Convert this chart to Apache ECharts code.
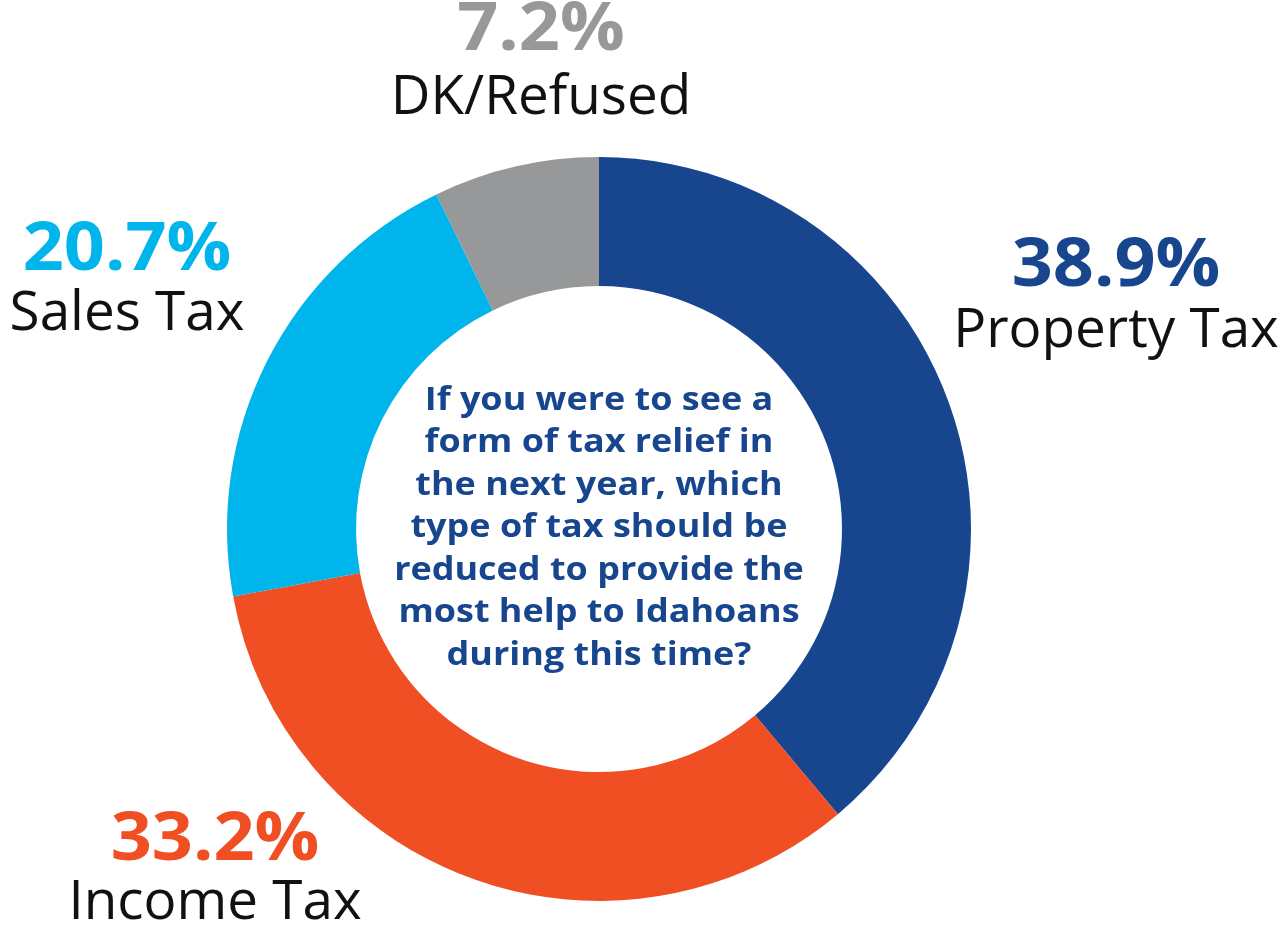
<!DOCTYPE html>
<html>
<head>
<meta charset="utf-8">
<script src="https://cdn.jsdelivr.net/npm/echarts@6/dist/echarts.min.js"></script>
<style>
html,body{margin:0;padding:0;background:#fff;}
#chart{width:1288px;height:929px;}
</style>
</head>
<body>
<div id="chart"></div>
<script>
const categories = ['Property Tax', 'Income Tax', 'Sales Tax', 'DK/Refused'];
const values = [38.9, 33.2, 20.7, 7.2];
const colors = ['#17468e', '#f04e23', '#00b5ec', '#97989a'];
const centerLines = [
  'If you were to see a',
  'form of tax relief in',
  'the next year, which',
  'type of tax should be',
  'reduced to provide the',
  'most help to Idahoans',
  'during this time?'
];

const chart = echarts.init(document.getElementById('chart'));

const labelPos = [
  {x: 1116, yp: 267, yn: 332},
  {x: 215, yp: 841, yn: 904},
  {x: 127, yp: 251, yn: 315},
  {x: 541, yp: 31, yn: 99}
];
const graphics = [];
categories.forEach((c, i) => {
  graphics.push({
    type: 'text', x: labelPos[i].x, y: labelPos[i].yp, scaleX: 1.09,
    style: {text: values[i].toFixed(1) + '%', fill: colors[i],
      font: 'bold 66px "Open Sans", sans-serif', textAlign: 'center', textVerticalAlign: 'middle'}
  });
  graphics.push({
    type: 'text', x: labelPos[i].x, y: labelPos[i].yn, scaleX: 1.015,
    style: {text: c, fill: '#111',
      font: 'normal 54px "Open Sans", sans-serif', textAlign: 'center', textVerticalAlign: 'middle'}
  });
});
graphics.push({
  type: 'text', x: 599, y: 528, scaleX: 1.09,
  style: {text: centerLines.join('\n'), fill: '#17468e', lineHeight: 42.5,
    font: 'bold 33px "Open Sans", sans-serif', textAlign: 'center', textVerticalAlign: 'middle'}
});

chart.setOption({
  animation: false,
  backgroundColor: '#fff',
  series: [{
    type: 'pie',
    center: [599, 529],
    radius: [243, 372],
    startAngle: 90,
    clockwise: true,
    label: {show: false},
    labelLine: {show: false},
    emphasis: {disabled: true},
    itemStyle: {borderWidth: 0},
    data: categories.map((c, i) => ({name: c, value: values[i], itemStyle: {color: colors[i]}}))
  }],
  graphic: graphics
});
</script>
</body>
</html>
